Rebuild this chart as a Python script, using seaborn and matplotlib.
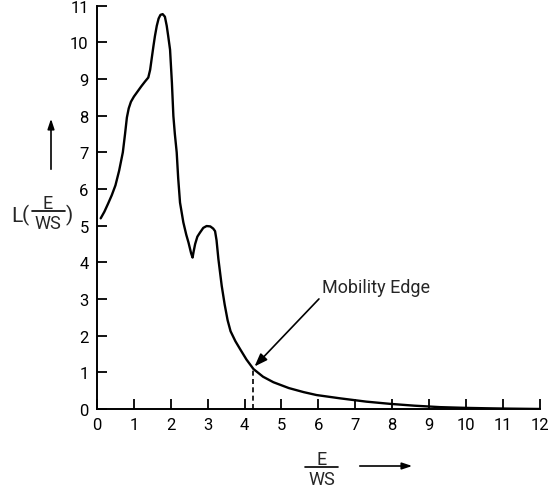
import matplotlib
matplotlib.use("Agg")
import matplotlib.pyplot as plt
from matplotlib.lines import Line2D
from matplotlib.patches import FancyArrowPatch
import seaborn as sns
import pandas as pd

# Localisation length L as a function of the reduced energy E/WS
energy = [0.1, 0.2, 0.3, 0.4, 0.5, 0.6, 0.7, 0.76, 0.81, 0.86, 0.92, 1.0, 1.1,
          1.2, 1.3, 1.39, 1.44, 1.48, 1.53, 1.57, 1.62, 1.67, 1.72, 1.78, 1.84,
          1.89, 1.93, 1.98, 2.03, 2.07, 2.11, 2.16, 2.2, 2.25, 2.34, 2.42, 2.48,
          2.55, 2.59, 2.62, 2.66, 2.72, 2.79, 2.88, 2.97, 3.07, 3.15, 3.2, 3.24,
          3.29, 3.38, 3.46, 3.54, 3.62, 3.75, 3.88, 4.05, 4.24, 4.5, 4.78, 5.2,
          5.6, 5.95, 6.59, 7.3, 7.94, 8.6, 9.3, 10.0, 10.5, 11.1, 12.0]
loc_length = [5.2, 5.38, 5.6, 5.83, 6.1, 6.5, 7.0, 7.5, 7.95, 8.2, 8.38, 8.52,
              8.66, 8.8, 8.93, 9.04, 9.25, 9.54, 9.9, 10.17, 10.45, 10.65, 10.75,
              10.77, 10.7, 10.45, 10.17, 9.8, 8.9, 7.99, 7.5, 7.0, 6.3, 5.63,
              5.09, 4.75, 4.54, 4.25, 4.13, 4.3, 4.5, 4.7, 4.81, 4.94, 4.99,
              4.98, 4.92, 4.85, 4.6, 4.09, 3.36, 2.85, 2.42, 2.12, 1.85, 1.63,
              1.35, 1.09, 0.88, 0.73, 0.57, 0.46, 0.38, 0.29, 0.2, 0.14, 0.09,
              0.05, 0.03, 0.02, 0.01, 0.0]

x_ticks = list(range(0, 13))
y_ticks = list(range(0, 12))
mobility_edge = 4.24
edge_label = "Mobility Edge"

df = pd.DataFrame({"E": energy, "L": loc_length})

sns.set_theme(style="ticks")
plt.rcParams["font.family"] = ["Roboto", "DejaVu Sans"]

W, H = 548, 489
fig = plt.figure(figsize=(W / 100, H / 100), dpi=100)
ax = fig.add_axes([0.177, 0.1616, 0.808, 0.8247])


def fx(px):
    return px / W


def fy(py):
    return 1 - py / H


sns.lineplot(data=df, x="E", y="L", sort=False, color="black", lw=1.7, ax=ax,
             solid_joinstyle="round", solid_capstyle="round")

# dashed drop line at the mobility edge
edge_L = loc_length[energy.index(mobility_edge)]
ax.plot([mobility_edge, mobility_edge], [0, edge_L], color="black", lw=1.2,
        ls=(0, (3, 2)))

ax.annotate(edge_label, xy=(mobility_edge + 0.03, edge_L + 0.07),
            xytext=(6.1, 3.2), fontsize=13, ha="left", va="baseline",
            arrowprops=dict(arrowstyle="-|>,head_length=0.6,head_width=0.22",
                            color="black", lw=1.2, shrinkA=0, shrinkB=0,
                            relpos=(0.0, 0.0)))

ax.set_xlim(0, 12)
ax.set_ylim(0, 11)
ax.set_xticks(x_ticks)
ax.set_yticks(y_ticks)
ax.set_xticklabels([str(t) for t in x_ticks])
ax.set_yticklabels([str(t) for t in y_ticks])
ax.tick_params(direction="in", length=7.5, width=1.3, labelsize=12,
               colors="black", pad=6)
ax.set_xlabel("")
ax.set_ylabel("")
sns.despine(ax=ax)
for side in ("left", "bottom"):
    ax.spines[side].set_linewidth(1.4)
    ax.spines[side].set_color("black")


def fraction(cx, bar_y, x0, x1, size=13):
    """Stacked E / WS with a rule between numerator and denominator."""
    fig.text(fx(cx), fy(bar_y - 3), "E", fontsize=size, ha="center",
             va="baseline")
    fig.text(fx(cx), fy(bar_y + 3), "WS", fontsize=size, ha="center",
             va="top")
    fig.add_artist(Line2D([fx(x0), fx(x1)], [fy(bar_y), fy(bar_y)],
                          transform=fig.transFigure, color="black", lw=1.2))


# y-axis title: L(E/WS) with an upward arrow
fig.text(fx(11), fy(217), "L", fontsize=15, ha="left", va="center")
fig.text(fx(22), fy(215), "(", fontsize=15, ha="left", va="center")
fraction(48, 212, 32, 65)
fig.text(fx(66), fy(215), ")", fontsize=15, ha="left", va="center")
fig.add_artist(FancyArrowPatch(
    (fx(51), fy(173)), (fx(51), fy(117)), transform=fig.transFigure,
    arrowstyle="-|>,head_length=0.6,head_width=0.2", color="black", lw=1.2,
    mutation_scale=10))

# x-axis title: E/WS with a rightward arrow
fraction(322, 468, 305, 338)
fig.add_artist(FancyArrowPatch(
    (fx(357), fy(467)), (fx(415), fy(467)), transform=fig.transFigure,
    arrowstyle="-|>,head_length=0.6,head_width=0.2", color="black", lw=1.2,
    mutation_scale=10))

fig.savefig("out.png", dpi=100, facecolor="white")
